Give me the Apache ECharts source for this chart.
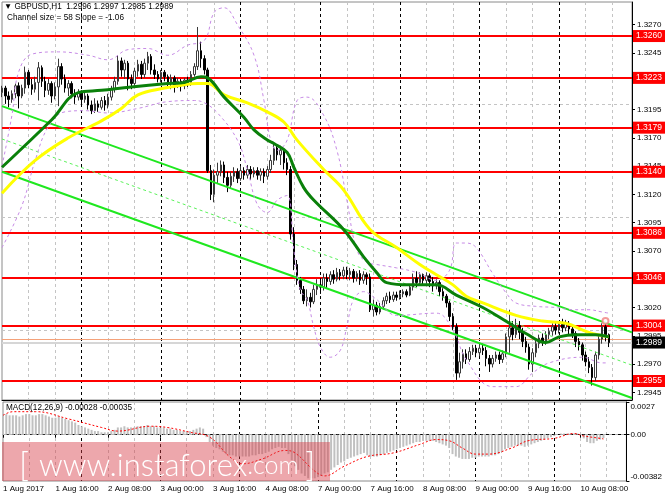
<!DOCTYPE html>
<html><head><meta charset="utf-8">
<script src="https://cdn.jsdelivr.net/npm/echarts@6/dist/echarts.min.js"></script>
<style>html,body{margin:0;padding:0;background:#fff}#c{width:665px;height:499px}</style>
</head><body><div id="c"></div>
<script>
// ---------- time axis (hourly bars, weekend skipped) ----------
const tradingDays = [1, 2, 3, 4, 7, 8, 9, 10];
const categories = [];
tradingDays.forEach(d => { for (let h = 0; h < 24; h++) categories.push(d + ' Aug ' + (h < 10 ? '0' + h : h) + ':00'); });
categories.length = 191;
categories[0] = '1 Aug 2017';

// ---------- price axis ----------
const priceTicks = [1.2945, 1.2970, 1.2995, 1.3020, 1.3045, 1.3070, 1.3095, 1.3120, 1.3145, 1.3170, 1.3195, 1.3220, 1.3245, 1.3270];
const levels = [1.3260, 1.3223, 1.3179, 1.3140, 1.3086, 1.3046, 1.3004, 1.2955];
const bidPrice = 1.2989;
const askPrice = 1.2992;

// ---------- candles [open, close, low, high] ----------
const candles = [
[1.3210,1.3214,1.3206,1.3216],[1.3214,1.3207,1.3200,1.3216],[1.3207,1.3204,1.3197,1.3211],[1.3204,1.3209,1.3201,1.3212],[1.3209,1.3216,1.3205,1.3218],
[1.3216,1.3207,1.3196,1.3219],[1.3207,1.3214,1.3205,1.3217],[1.3214,1.3228,1.3209,1.3233],[1.3228,1.3217,1.3214,1.3230],[1.3217,1.3213,1.3208,1.3222],
[1.3213,1.3219,1.3210,1.3224],[1.3219,1.3232,1.3203,1.3237],[1.3232,1.3220,1.3215,1.3234],[1.3220,1.3212,1.3206,1.3224],[1.3212,1.3218,1.3208,1.3222],
[1.3218,1.3207,1.3201,1.3220],[1.3207,1.3215,1.3204,1.3219],[1.3215,1.3233,1.3198,1.3240],[1.3233,1.3222,1.3217,1.3236],[1.3222,1.3214,1.3210,1.3226],
[1.3214,1.3218,1.3207,1.3221],[1.3218,1.3209,1.3205,1.3220],[1.3209,1.3206,1.3200,1.3213],[1.3206,1.3210,1.3203,1.3213],[1.3210,1.3204,1.3199,1.3212],
[1.3204,1.3207,1.3201,1.3210],[1.3207,1.3199,1.3195,1.3209],[1.3199,1.3194,1.3191,1.3203],[1.3194,1.3200,1.3192,1.3205],[1.3200,1.3197,1.3193,1.3203],
[1.3197,1.3203,1.3195,1.3206],[1.3203,1.3199,1.3194,1.3207],[1.3199,1.3206,1.3196,1.3209],[1.3206,1.3213,1.3203,1.3216],[1.3213,1.3220,1.3210,1.3224],
[1.3220,1.3238,1.3217,1.3243],[1.3238,1.3230,1.3224,1.3241],[1.3230,1.3236,1.3222,1.3239],[1.3236,1.3222,1.3212,1.3238],[1.3222,1.3218,1.3213,1.3226],
[1.3218,1.3229,1.3215,1.3232],[1.3229,1.3235,1.3224,1.3239],[1.3235,1.3226,1.3222,1.3238],[1.3226,1.3236,1.3223,1.3240],[1.3236,1.3242,1.3230,1.3246],
[1.3242,1.3230,1.3226,1.3244],[1.3230,1.3226,1.3222,1.3235],[1.3226,1.3222,1.3219,1.3229],[1.3222,1.3228,1.3219,1.3230],[1.3228,1.3224,1.3220,1.3230],
[1.3224,1.3218,1.3215,1.3226],[1.3218,1.3223,1.3213,1.3226],[1.3223,1.3217,1.3210,1.3225],[1.3217,1.3220,1.3214,1.3223],[1.3220,1.3216,1.3211,1.3222],
[1.3216,1.3221,1.3213,1.3223],[1.3221,1.3219,1.3215,1.3224],[1.3219,1.3226,1.3216,1.3229],[1.3226,1.3233,1.3224,1.3236],[1.3233,1.3247,1.3230,1.3268],
[1.3247,1.3240,1.3232,1.3255],[1.3240,1.3230,1.3226,1.3243],[1.3230,1.3141,1.3139,1.3232],[1.3141,1.3120,1.3115,1.3146],[1.3120,1.3137,1.3113,1.3142],
[1.3137,1.3140,1.3130,1.3148],[1.3140,1.3146,1.3136,1.3150],[1.3146,1.3135,1.3130,1.3149],[1.3135,1.3128,1.3122,1.3140],[1.3128,1.3136,1.3125,1.3140],
[1.3136,1.3140,1.3131,1.3144],[1.3140,1.3134,1.3130,1.3143],[1.3134,1.3141,1.3132,1.3145],[1.3141,1.3137,1.3133,1.3144],[1.3137,1.3142,1.3134,1.3146],
[1.3142,1.3138,1.3133,1.3145],[1.3138,1.3141,1.3135,1.3144],[1.3141,1.3137,1.3133,1.3144],[1.3137,1.3140,1.3132,1.3143],[1.3140,1.3136,1.3130,1.3143],
[1.3136,1.3142,1.3133,1.3145],[1.3142,1.3150,1.3139,1.3155],[1.3150,1.3161,1.3146,1.3165],[1.3161,1.3155,1.3150,1.3164],[1.3155,1.3159,1.3146,1.3163],
[1.3159,1.3148,1.3142,1.3161],[1.3148,1.3142,1.3137,1.3152],[1.3142,1.3085,1.3080,1.3145],[1.3085,1.3058,1.3053,1.3091],[1.3058,1.3044,1.3040,1.3062],
[1.3044,1.3036,1.3032,1.3047],[1.3036,1.3026,1.3023,1.3039],[1.3026,1.3029,1.3021,1.3036],[1.3029,1.3025,1.3020,1.3033],[1.3025,1.3036,1.3023,1.3040],
[1.3036,1.3040,1.3031,1.3045],[1.3040,1.3038,1.3032,1.3046],[1.3038,1.3046,1.3035,1.3050],[1.3046,1.3043,1.3037,1.3050],[1.3043,1.3049,1.3040,1.3052],
[1.3049,1.3045,1.3041,1.3053],[1.3045,1.3051,1.3043,1.3055],[1.3051,1.3048,1.3044,1.3054],[1.3048,1.3053,1.3045,1.3056],[1.3053,1.3049,1.3045,1.3056],
[1.3049,1.3052,1.3044,1.3055],[1.3052,1.3046,1.3042,1.3054],[1.3046,1.3050,1.3043,1.3052],[1.3050,1.3044,1.3040,1.3053],[1.3044,1.3049,1.3041,1.3052],
[1.3049,1.3047,1.3040,1.3051],[1.3047,1.3018,1.3016,1.3050],[1.3018,1.3022,1.3012,1.3027],[1.3022,1.3016,1.3013,1.3025],[1.3016,1.3021,1.3014,1.3024],
[1.3021,1.3026,1.3018,1.3029],[1.3026,1.3030,1.3023,1.3033],[1.3030,1.3027,1.3024,1.3034],[1.3027,1.3031,1.3025,1.3034],[1.3031,1.3029,1.3026,1.3034],
[1.3029,1.3032,1.3027,1.3035],[1.3032,1.3034,1.3029,1.3036],[1.3034,1.3031,1.3029,1.3036],[1.3031,1.3038,1.3030,1.3040],[1.3038,1.3046,1.3035,1.3050],
[1.3046,1.3042,1.3038,1.3052],[1.3042,1.3049,1.3040,1.3051],[1.3049,1.3044,1.3039,1.3050],[1.3044,1.3048,1.3041,1.3051],[1.3048,1.3043,1.3038,1.3050],
[1.3043,1.3039,1.3034,1.3047],[1.3039,1.3042,1.3036,1.3045],[1.3042,1.3034,1.3030,1.3044],[1.3034,1.3030,1.3026,1.3037],[1.3030,1.3024,1.3020,1.3032],
[1.3024,1.3012,1.3008,1.3026],[1.3012,1.3003,1.3000,1.3015],[1.3003,1.2962,1.2956,1.3006],[1.2962,1.2972,1.2958,1.2980],[1.2972,1.2979,1.2966,1.2983],
[1.2979,1.2974,1.2970,1.2983],[1.2974,1.2981,1.2972,1.2985],[1.2981,1.2984,1.2978,1.2987],[1.2984,1.2980,1.2976,1.2987],[1.2980,1.2984,1.2977,1.2988],
[1.2984,1.2982,1.2978,1.2988],[1.2982,1.2975,1.2968,1.2985],[1.2975,1.2970,1.2963,1.2978],[1.2970,1.2975,1.2967,1.2978],[1.2975,1.2978,1.2972,1.2981],
[1.2978,1.2974,1.2970,1.2981],[1.2974,1.2979,1.2971,1.2982],[1.2979,1.2994,1.2976,1.2997],[1.2994,1.3002,1.2980,1.3018],[1.3002,1.2996,1.2991,1.3008],
[1.2996,1.3004,1.2993,1.3010],[1.3004,1.2998,1.2992,1.3008],[1.2998,1.2990,1.2985,1.3002],[1.2990,1.2985,1.2980,1.2994],[1.2985,1.2970,1.2965,1.2988],
[1.2970,1.2980,1.2963,1.2984],[1.2980,1.2988,1.2976,1.2991],[1.2988,1.2993,1.2984,1.2996],[1.2993,1.2990,1.2986,1.2997],[1.2990,1.2996,1.2987,1.2999],
[1.2996,1.2999,1.2992,1.3002],[1.2999,1.3003,1.2995,1.3006],[1.3003,1.3000,1.2996,1.3007],[1.3000,1.3005,1.2997,1.3008],[1.3005,1.3002,1.2998,1.3010],
[1.3002,1.3006,1.2999,1.3009],[1.3006,1.3001,1.2996,1.3008],[1.3001,1.2997,1.2993,1.3004],[1.2997,1.2990,1.2985,1.2999],[1.2990,1.2987,1.2982,1.2993],
[1.2987,1.2978,1.2973,1.2989],[1.2978,1.2972,1.2968,1.2981],[1.2972,1.2967,1.2962,1.2976],[1.2967,1.2958,1.2951,1.2970],[1.2958,1.2978,1.2955,1.2981],
[1.2978,1.2992,1.2974,1.2995],[1.2992,1.3003,1.2988,1.3006],[1.3003,1.2996,1.2990,1.3007],[1.2996,1.2989,1.2985,1.2997]
];

// ---------- indicators (sparse readings [barIndex, value]) ----------
const maGreen = [[0,1.3144],[15,1.3186],[23,1.3210],[30,1.3212],[39,1.3215],[50,1.3218],[55,1.3219],[60,1.3224],[62,1.3223],[67,1.3206],[73,1.3188],[76,1.3177],[80,1.3168],[82,1.3165],[86,1.3157],[88,1.3144],[91,1.3126],[94,1.3115],[103,1.3089],[109,1.3065],[113,1.3051],[116,1.3042],[123,1.3040],[131,1.3040],[137,1.3031],[145,1.3020],[153,1.3006],[158,1.2997],[164,1.2989],[168,1.2994],[173,1.2996],[179,1.2996],[183,1.2994]];
const maYellow = [[0,1.3121],[10,1.3150],[20,1.3170],[30,1.3185],[36,1.3196],[41,1.3208],[49,1.3214],[55,1.3217],[59,1.3218],[62,1.3218],[67,1.3208],[74,1.3201],[80,1.3193],[85,1.3184],[89,1.3168],[97,1.3142],[103,1.3124],[111,1.3089],[119,1.3073],[126,1.3058],[131,1.3049],[136,1.3040],[140,1.3030],[145,1.3024],[155,1.3013],[163,1.3008],[170,1.3006],[177,1.2998],[183,1.2994]];
const bbUpper = [[0,1.3145],[3,1.3190],[5,1.3228],[9,1.3244],[17,1.3246],[26,1.3243],[32,1.3239],[38,1.3248],[44,1.3249],[50,1.3243],[56,1.3252],[61,1.3256],[64,1.3281],[67,1.3285],[71,1.3270],[76,1.3243],[79,1.3203],[81,1.3168],[83,1.3159],[86,1.3168],[89,1.3203],[92,1.3206],[97,1.3190],[101,1.3159],[104,1.3115],[107,1.3071],[110,1.3060],[113,1.3058],[119,1.3055],[125,1.3051],[131,1.3044],[135,1.3053],[137,1.3077],[140,1.3077],[143,1.3073],[148,1.3050],[152,1.3033],[155,1.3024],[161,1.3021],[167,1.3020],[172,1.3018],[177,1.3018],[181,1.3016],[183,1.3015]];
const bbLower = [[0,1.3073],[6,1.3110],[10,1.3150],[14,1.3180],[19,1.3193],[25,1.3194],[32,1.3192],[41,1.3196],[50,1.3202],[58,1.3203],[61,1.3201],[65,1.3192],[71,1.3168],[74,1.3142],[77,1.3111],[80,1.3104],[83,1.3115],[86,1.3119],[88,1.3071],[90,1.3035],[92,1.3027],[94,1.3003],[96,1.2985],[99,1.2976],[102,1.2982],[104,1.3003],[106,1.3027],[109,1.3034],[113,1.3027],[119,1.3013],[131,1.3015],[136,1.3000],[140,1.2974],[148,1.2950],[155,1.2950],[160,1.2962],[165,1.2971],[175,1.2976],[181,1.2971],[183,1.2971]];
const channelUpper = [[0,1.3198],[190,1.2998]];
const channelMiddle = [[0,1.3169],[190,1.2969]];
const channelLower = [[0,1.3140],[190,1.2940]];
const alertMark = [[182,1.3008]];

// ---------- MACD ----------
const macdTicks = [-0.00382, 0, 0.0027];
const macdHist = [
0.0017,0.0017,0.0016,0.0016,0.0016,0.0015,0.0016,0.0017,0.0017,0.0016,
0.0016,0.0017,0.0017,0.0016,0.0015,0.0014,0.0014,0.0015,0.0014,0.0013,
0.0012,0.0011,0.0010,0.0008,0.0007,0.0006,0.0005,0.0004,0.0003,0.0003,
0.0002,0.0002,0.0002,0.0003,0.0004,0.0006,0.0006,0.0007,0.0006,0.0006,
0.0006,0.0007,0.0007,0.0007,0.0008,0.0007,0.0007,0.0006,0.0006,0.0006,
0.0005,0.0005,0.0004,0.0004,0.0003,0.0003,0.0003,0.0003,0.0004,0.0005,
0.0006,0.0005,-0.0002,-0.0006,-0.0009,-0.0011,-0.0012,-0.0014,-0.0016,-0.0017,
-0.0017,-0.0018,-0.0018,-0.0018,-0.0018,-0.0018,-0.0017,-0.0017,-0.0016,-0.0016,
-0.0015,-0.0014,-0.0012,-0.0011,-0.0010,-0.0011,-0.0011,-0.0016,-0.0021,-0.0026,
-0.0029,-0.0032,-0.0034,-0.0036,-0.0036,-0.0036,-0.0035,-0.0034,-0.0032,-0.0031,
-0.0029,-0.0027,-0.0025,-0.0023,-0.0022,-0.0020,-0.0019,-0.0018,-0.0017,-0.0016,
-0.0015,-0.0017,-0.0018,-0.0018,-0.0018,-0.0017,-0.0016,-0.0015,-0.0014,-0.0013,
-0.0012,-0.0011,-0.0010,-0.0009,-0.0008,-0.0007,-0.0006,-0.0006,-0.0005,-0.0005,
-0.0005,-0.0005,-0.0006,-0.0007,-0.0008,-0.0009,-0.0011,-0.0016,-0.0018,-0.0019,
-0.0020,-0.0020,-0.0020,-0.0019,-0.0019,-0.0018,-0.0018,-0.0018,-0.0018,-0.0017,
-0.0017,-0.0016,-0.0014,-0.0012,-0.0011,-0.0010,-0.0009,-0.0009,-0.0009,-0.0010,
-0.0009,-0.0008,-0.0007,-0.0006,-0.0005,-0.0004,-0.0003,-0.0002,-0.0001,0.0000,
0.0001,0.0001,0.0001,0.0001,0.0001,0.0001,0.0000,-0.0003,-0.0006,-0.0007,
-0.0007,-0.0005,-0.0004,-0.00028
];
const macdSignal = [[0,0.0016],[3,0.0019],[10,0.0019],[20,0.0013],[30,0.0006],[35,0.0003],[45,0.0007],[50,0.0006],[57,0.0002],[63,-0.0002],[69,-0.0018],[73,-0.0024],[79,-0.0020],[86,-0.0013],[89,-0.0015],[95,-0.0030],[98,-0.0034],[104,-0.0026],[111,-0.0018],[119,-0.0015],[127,-0.0008],[132,-0.0004],[136,-0.0005],[140,-0.0011],[144,-0.0016],[148,-0.0016],[155,-0.0011],[160,-0.0005],[168,-0.0003],[174,0.0001],[177,-0.0001],[182,-0.0003],[183,-0.00035]];

// ---------- chart ----------
const FONT = 'Liberation Sans';
const small = {fontFamily: FONT, fontSize: 8, color: '#000', fontWeight: 'normal'};
const chart = echarts.init(document.getElementById('c'), null, {renderer: 'canvas'});

const hiddenAxisBase = (grid, interval, color, dash) => ({
  gridIndex: grid, type: 'category', data: categories, boundaryGap: false,
  axisLine: {show: false}, axisTick: {show: false}, axisLabel: {show: false},
  splitLine: {show: true, interval: interval, lineStyle: {color: color, type: dash, width: 1}}
});
const grayInt = (i) => i % 8 === 0 && i % 24 !== 0;
const dayInt = (i) => i % 24 === 0 && i > 0;

const xAxes = [
  Object.assign(hiddenAxisBase(0, grayInt, '#c4c4c4', [3, 3]), {axisLine: {show: true, lineStyle: {color: '#000'}}}),
  hiddenAxisBase(0, dayInt, '#000', [3, 3]),
  Object.assign(hiddenAxisBase(1, grayInt, '#c4c4c4', [3, 3]), {
    axisLine: {show: true, lineStyle: {color: '#000'}},
    axisTick: {show: true, interval: (i) => i % 16 === 0, length: 3, lineStyle: {color: '#000'}},
    axisLabel: Object.assign({show: true, interval: (i) => i % 16 === 0, align: 'left', margin: 4}, small)
  }),
  hiddenAxisBase(1, dayInt, '#000', [3, 3])
];

const labelBox = (bg) => ({show: true, position: 'end', distance: 1, formatter: '{b}', color: '#fff', backgroundColor: bg,
  padding: [2, 3, 1, 3], fontFamily: FONT, fontSize: 8.5});

const option = {
  animation: false,
  backgroundColor: '#fff',
  textStyle: {fontFamily: FONT},
  title: [
    {text: '▼ GBPUSD,H1  1.2996 1.2997 1.2985 1.2989', left: 4, top: 3, padding: 0, textStyle: Object.assign({}, small, {fontSize: 8.2})},
    {text: 'Channel size = 58 Slope = -1.06', left: 7, top: 14, padding: 0, textStyle: Object.assign({}, small, {fontSize: 8.2})},
    {text: 'MACD(12,26,9) -0.00028 -0.00035', left: 6, top: 404, padding: 0, textStyle: Object.assign({}, small, {fontSize: 8.2})}
  ],
  grid: [
    {left: 2, top: 2, width: 630, height: 398, show: true, borderColor: '#8a8a8a', borderWidth: 1},
    {left: 2, top: 402, width: 630, height: 79, show: true, borderColor: '#8a8a8a', borderWidth: 1}
  ],
  xAxis: xAxes,
  yAxis: [
    {gridIndex: 0, type: 'value', position: 'right', min: 1.29382, max: 1.32901, scale: true,
      axisLine: {show: true, lineStyle: {color: '#000'}},
      axisTick: {show: true, length: 3, customValues: priceTicks, lineStyle: {color: '#000'}},
      axisLabel: Object.assign({customValues: priceTicks, formatter: (v) => v.toFixed(4), margin: 5}, small),
      splitLine: {show: false}},
    {gridIndex: 1, type: 'value', position: 'right', min: -0.00382, max: 0.0027,
      axisLine: {show: true, lineStyle: {color: '#000'}},
      axisTick: {show: true, length: 3, customValues: macdTicks, lineStyle: {color: '#000'}},
      axisLabel: Object.assign({customValues: macdTicks, margin: 4,
        formatter: (v) => v === 0 ? '0.00' : (v > 0 ? '{t|0.0027}' : '{b|-0.00382}'),
        rich: {t: {fontSize: 8, fontFamily: FONT, color: '#000', padding: [10, 0, 0, 0]}, b: {fontSize: 8, fontFamily: FONT, color: '#000', padding: [0, 0, 8, 0]}}}, small),
      splitLine: {show: false}}
  ],
  series: [
    {
      name: 'channelMiddle', type: 'line', xAxisIndex: 0, yAxisIndex: 0, data: channelMiddle, symbol: 'none', z: 4,
      lineStyle: {color: '#5cf25c', width: 1, type: [3, 3]},
      markLine: {silent: true, symbol: 'none', z: 1, animation: false, label: {show: false},
        lineStyle: {color: '#c4c4c4', type: [3, 3], width: 1},
        data: priceTicks.map(v => ({yAxis: v}))}
    },
    {
      name: 'channelUpper', type: 'line', xAxisIndex: 0, yAxisIndex: 0, data: channelUpper, symbol: 'none', z: 4,
      lineStyle: {color: '#1fe81f', width: 2},
      markLine: {silent: true, symbol: 'none', z: 2, animation: false, precision: 4,
        lineStyle: {color: '#ff0000', type: 'solid', width: 2},
        label: labelBox('#ff0000'),
        data: levels.map(v => ({yAxis: v, name: v.toFixed(4)}))}
    },
    {
      name: 'channelLower', type: 'line', xAxisIndex: 0, yAxisIndex: 0, data: channelLower, symbol: 'none', z: 4,
      lineStyle: {color: '#1fe81f', width: 2},
      markLine: {silent: true, symbol: 'none', z: 2, animation: false, precision: 4,
        data: [
          {yAxis: bidPrice, name: bidPrice.toFixed(4), lineStyle: {color: '#d6d6d6', width: 2, type: 'solid'}, label: labelBox('#000')},
          {yAxis: askPrice, lineStyle: {color: '#f4a27a', width: 1, type: 'solid'}, label: {show: false}}
        ]}
    },
    {
      name: 'GBPUSD', type: 'candlestick', xAxisIndex: 0, yAxisIndex: 0, data: candles, barWidth: 2, z: 3,
      itemStyle: {color: '#ffffff', color0: '#000000', borderColor: '#3a3a3a', borderColor0: '#000000', borderWidth: 1}
    },
    {name: 'bbUpper', type: 'line', xAxisIndex: 0, yAxisIndex: 0, data: bbUpper, smooth: 0.4, symbol: 'none', z: 4,
      lineStyle: {color: '#c78be6', width: 1, type: [3, 3]}},
    {name: 'bbLower', type: 'line', xAxisIndex: 0, yAxisIndex: 0, data: bbLower, smooth: 0.4, symbol: 'none', z: 4,
      lineStyle: {color: '#c78be6', width: 1, type: [3, 3]}},
    {name: 'maYellow', type: 'line', xAxisIndex: 0, yAxisIndex: 0, data: maYellow, smooth: 0.4, symbol: 'none', z: 5,
      lineStyle: {color: '#ffff00', width: 3}},
    {name: 'maGreen', type: 'line', xAxisIndex: 0, yAxisIndex: 0, data: maGreen, smooth: 0.4, symbol: 'none', z: 6,
      lineStyle: {color: '#0a800a', width: 3}},
    {name: 'alert', type: 'scatter', xAxisIndex: 0, yAxisIndex: 0, data: alertMark, symbol: 'emptyCircle', symbolSize: 6, z: 7,
      itemStyle: {color: '#f08080', borderColor: '#f08080', borderWidth: 1}},
    {name: 'MACD', type: 'bar', xAxisIndex: 2, yAxisIndex: 1, data: macdHist, barWidth: 2, z: 3,
      itemStyle: {color: '#c0c0c0'},
      markLine: {silent: true, symbol: 'none', z: 1, animation: false, label: {show: false},
        lineStyle: {color: '#b0b0b0', type: [3, 3], width: 1}, data: [{yAxis: 0}]}},
    {name: 'Signal', type: 'line', xAxisIndex: 2, yAxisIndex: 1, data: macdSignal, smooth: 0.4, symbol: 'none', z: 4,
      lineStyle: {color: '#ff0000', width: 1, type: [2, 2]}}
  ],
  graphic: [
    {type: 'rect', left: 2, top: 442, z: 100, shape: {width: 328, height: 39}, style: {fill: 'rgba(216,60,70,0.45)'}},
    {type: 'text', x: 19, y: 466, z: 101, style: {
      text: '{k|[}   {w|www.instaforex}{c|.com}  {k|]}', fill: '#fff', verticalAlign: 'middle', align: 'left',
      rich: {
        k: {fontFamily: 'Lato', fontSize: 34, fontWeight: 300, fill: '#fff'},
        w: {fontFamily: 'Lato', fontSize: 31, fontWeight: 300, fill: '#fff'},
        c: {fontFamily: 'Lato', fontSize: 25, fontWeight: 300, fill: '#fff'}
      }}}
  ]
};
chart.setOption(option);
</script>
</body></html>
